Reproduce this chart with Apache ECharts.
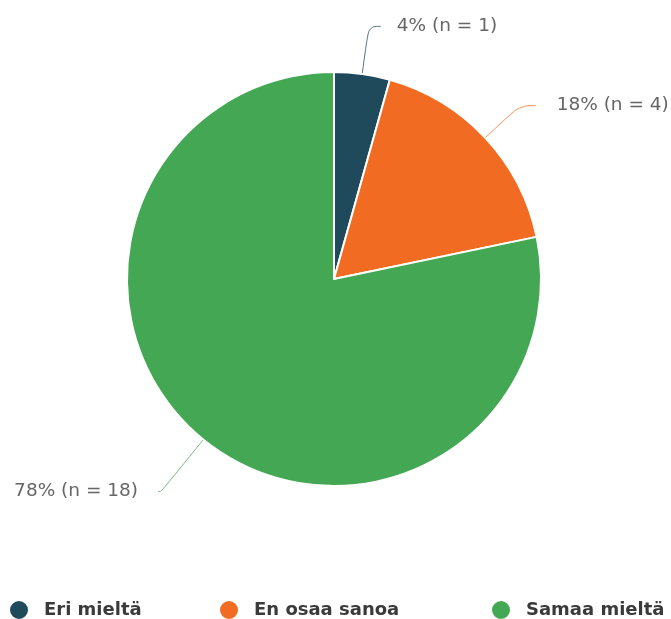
<!DOCTYPE html>
<html><head><meta charset="utf-8">
<script src="https://cdn.jsdelivr.net/npm/echarts@6/dist/echarts.min.js"></script>
<style>html,body{margin:0;padding:0;background:#fff}#c{width:671px;height:619px}</style>
</head><body><div id="c"></div>
<script>
const categories = ['Eri mieltä', 'En osaa sanoa', 'Samaa mieltä'];
const counts = [1, 4, 18];
const percents = [4, 18, 78];
const colors = ['#1f4a5c', '#f26b22', '#43a753'];

const lineLen = [48, 47, 67];
const lineLen2 = [12, 16, 3];
const labelDist = [16, 21, 20];

const chart = echarts.init(document.getElementById('c'));
const data = categories.map((n, i) => ({
  name: n, value: counts[i], pct: percents[i],
  itemStyle: { color: colors[i] },
  label: { distanceToLabelLine: labelDist[i] },
  labelLine: { length: lineLen[i], length2: lineLen2[i], lineStyle: { color: colors[i], opacity: 0.75 } }
}));
const legendLefts = [8, 218, 490];
chart.setOption({
  animation: false,
  legend: categories.map((n, i) => ({
    data: [n], left: legendLefts[i], top: 599, padding: 0,
    icon: 'circle', itemWidth: 20, itemHeight: 20, itemGap: 0,
    textStyle: { fontFamily: 'DejaVu Sans', fontWeight: 'bold', fontSize: 18, color: '#3a3a3a', padding: [0, 0, 0, 10] }
  })),
  series: [{
    type: 'pie',
    center: [334, 279],
    radius: [0, 207],
    startAngle: 90,
    clockwise: true,
    avoidLabelOverlap: false,
    data: data,
    itemStyle: { borderColor: '#fff', borderWidth: 2 },
    label: {
      show: true,
      formatter: p => p.data.pct + '% (n = ' + p.value + ')',
      fontFamily: 'DejaVu Sans',
      fontSize: 18.5,
      color: '#666'
    },
    labelLine: { show: true, smooth: 0.4, lineStyle: { width: 1 } }
  }]
});
</script></body></html>
